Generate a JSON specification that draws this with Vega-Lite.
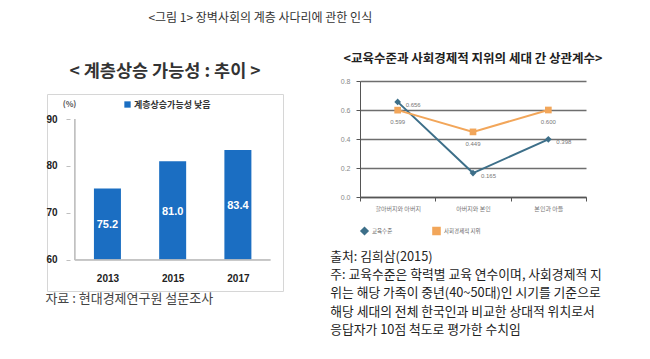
{
  "$schema": "https://vega.github.io/schema/vega-lite/v6.json",
  "padding": {"left": 45, "top": 11, "right": 5, "bottom": 5},
  "background": "white",
  "config": {"font": "Noto Sans CJK KR"},
  "title": {"text": "<그림 1> 장벽사회의 계층 사다리에 관한 인식", "anchor": "start", "dx": 103, "fontSize": 12, "fontWeight": "normal", "color": "#333", "offset": 28},
  "datasets": {
    "bars": [
      {"year": 2013, "value": 75.2, "series": "계층상승가능성 낮음"},
      {"year": 2015, "value": 81.0, "series": "계층상승가능성 낮음"},
      {"year": 2017, "value": 83.4, "series": "계층상승가능성 낮음"}
    ],
    "corr": [
      {"pair": "할아버지와 아버지", "series": "교육수준", "value": 0.656},
      {"pair": "아버지와 본인", "series": "교육수준", "value": 0.165},
      {"pair": "본인과 아들", "series": "교육수준", "value": 0.398},
      {"pair": "할아버지와 아버지", "series": "사회경제적 지위", "value": 0.599},
      {"pair": "아버지와 본인", "series": "사회경제적 지위", "value": 0.449},
      {"pair": "본인과 아들", "series": "사회경제적 지위", "value": 0.600}
    ]
  },
  "resolve": {"scale": {"color": "independent", "shape": "independent"}, "legend": {"color": "independent", "shape": "independent"}},
  "spacing": 46,
  "hconcat": [
    {
      "title": {"text": "자료 : 현대경제연구원 설문조사", "orient": "bottom", "anchor": "start", "fontSize": 13, "fontWeight": "normal", "color": "#444", "offset": 1},
      "resolve": {"scale": {"color": "independent"}, "legend": {"color": "independent"}},
      "vconcat": [
        {
          "width": 236,
          "height": 197,
          "title": {"text": "< 계층상승 가능성 : 추이  >", "fontSize": 17.5, "fontWeight": "bold", "color": "#333", "offset": 14, "anchor": "middle"},
          "view": {"stroke": "#d6d6d6", "strokeWidth": 1},
          "data": {"name": "bars"},
          "layer": [
            {
              "mark": {"type": "bar", "size": 27, "color": "#1b6ec2"},
              "encoding": {
                "x": {"field": "year", "type": "quantitative",
                  "scale": {"domain": [2011.3, 2018.23], "nice": false, "zero": false},
                  "axis": {"orient": "bottom", "offset": -31, "values": [2013, 2015, 2017], "format": "d", "domain": false, "ticks": false, "grid": false, "labelPadding": 13, "labelFontSize": 10, "labelFontWeight": "bold", "labelColor": "#222", "labelFont": "Liberation Sans", "title": null}},
                "y": {"field": "value", "type": "quantitative",
                  "scale": {"domain": [53.4, 95.32], "nice": false, "zero": false},
                  "axis": {"orient": "left", "offset": -23, "values": [60, 70, 80, 90], "domain": false, "grid": false, "ticks": true, "tickSize": 4, "tickColor": "#bfbfbf", "labelPadding": 9, "labelFontSize": 10, "labelFontWeight": "bold", "labelColor": "#222", "labelFont": "Liberation Sans",
                    "title": "(%)", "titleAngle": 0, "titleX": -1, "titleY": 10, "titleAlign": "center", "titleBaseline": "middle", "titleFontSize": 8, "titleFontWeight": "bold", "titleColor": "#555"}},
                "y2": {"datum": 60},
                "color": {"field": "series", "type": "nominal", "scale": {"range": ["#1b6ec2"]},
                  "legend": {"orient": "none", "legendX": 76, "legendY": 6, "title": null, "symbolType": "square", "symbolSize": 40, "labelFontSize": 9, "labelFontWeight": "bold", "labelColor": "#333", "labelOffset": 2}}
              }
            },
            {
              "mark": {"type": "rule", "color": "#bfbfbf", "strokeWidth": 1},
              "encoding": {"x": {"datum": 2012, "type": "quantitative"}, "x2": {"datum": 2018}, "y": {"datum": 60, "type": "quantitative"}}
            },
            {
              "mark": {"type": "rule", "color": "#bfbfbf", "strokeWidth": 1},
              "encoding": {"x": {"datum": 2012, "type": "quantitative"}, "y": {"datum": 60, "type": "quantitative"}, "y2": {"datum": 90}}
            },
            {
              "transform": [{"calculate": "(datum.value + 60) / 2", "as": "mid"}],
              "mark": {"type": "text", "color": "white", "fontWeight": "bold", "fontSize": 11, "font": "Liberation Sans", "dy": 1},
              "encoding": {
                "x": {"field": "year", "type": "quantitative"},
                "y": {"field": "mid", "type": "quantitative"},
                "text": {"field": "value", "type": "quantitative", "format": ".1f"}
              }
            }
          ]
        }
      ]
    },
    {
      "title": {"text": ["출처: 김희삼(2015)", "주: 교육수준은 학력별 교육 연수이며, 사회경제적 지", "위는 해당 가족이 중년(40~50대)인 시기를 기준으로", "해당 세대의 전체 한국인과 비교한 상대적 위치로서", "응답자가 10점 척도로 평가한 수치임"], "orient": "bottom", "anchor": "start", "fontSize": 12.8, "fontWeight": "normal", "color": "#222", "lineHeight": 18.2, "offset": 13, "dx": -10},
      "resolve": {"scale": {"color": "independent", "shape": "independent"}, "legend": {"color": "independent", "shape": "independent"}},
      "vconcat": [
        {
          "width": 226,
          "height": 103,
          "title": {"text": "<교육수준과 사회경제적 지위의 세대 간 상관계수>", "fontSize": 12.5, "fontWeight": "bold", "color": "#222", "offset": 12, "anchor": "middle"},
          "view": {"stroke": null},
          "data": {"name": "corr"},
          "encoding": {
            "x": {"field": "pair", "type": "nominal", "sort": ["할아버지와 아버지", "아버지와 본인", "본인과 아들"],
              "scale": {"type": "band", "paddingInner": 0, "paddingOuter": 0},
              "axis": {"title": null, "labelAngle": 0, "labelFontSize": 6, "labelColor": "#777", "tickBand": "extent", "tickSize": 4, "tickColor": "#555", "domainColor": "#555", "domainWidth": 1.5, "labelPadding": 4}},
            "y": {"field": "value", "type": "quantitative", "scale": {"domain": [0, 0.8], "nice": false, "range": [103, -13]},
              "axis": {"title": null, "values": [0, 0.2, 0.4, 0.6, 0.8], "format": ".1f", "labelFontSize": 7, "labelFont": "Liberation Sans", "labelColor": "#888", "grid": true, "gridColor": "#6e6e6e", "gridWidth": 1.5, "domainColor": "#555", "tickColor": "#555", "tickSize": 4, "labelPadding": 6}}
          },
          "layer": [
            {"mark": {"type": "line", "strokeWidth": 2},
              "encoding": {
                "color": {"field": "series", "type": "nominal", "scale": {"domain": ["교육수준", "사회경제적 지위"], "range": ["#3d6f89", "#f2a65a"]},
                  "legend": {"orient": "bottom", "title": null, "direction": "horizontal", "labelFontSize": 5.5, "labelColor": "#666", "columnPadding": 36, "labelOffset": 3, "offset": 15, "symbolSize": 50,
                    "symbolType": {"expr": "datum.value === '교육수준' ? 'M-1,0H1M0,-0.38L0.38,0L0,0.38L-0.38,0Z' : 'M-1,0H1M-0.32,-0.32H0.32V0.32H-0.32Z'"},
                    "symbolStrokeColor": {"expr": "datum.value === '교육수준' ? '#3d6f89' : '#f2a65a'"},
                    "symbolFillColor": {"expr": "datum.value === '교육수준' ? '#3d6f89' : '#f2a65a'"},
                    "symbolStrokeWidth": 1.5}
                }
              }
            },
            {"mark": {"type": "point", "filled": true, "opacity": 1, "size": 45},
              "encoding": {
                "color": {"field": "series", "type": "nominal", "legend": null},
                "shape": {"field": "series", "type": "nominal", "scale": {"domain": ["교육수준", "사회경제적 지위"], "range": ["diamond", "square"]}, "legend": null}}},
            {"transform": [{"filter": "datum.series === '교육수준'"}],
              "mark": {"type": "text", "align": "left", "dx": 8, "dy": 3, "fontSize": 6, "font": "Liberation Sans"},
              "encoding": {"text": {"field": "value", "type": "quantitative", "format": ".3f"}, "color": {"value": "#777"}}},
            {"transform": [{"filter": "datum.series === '사회경제적 지위'"}],
              "mark": {"type": "text", "align": "center", "dy": 12, "fontSize": 6, "font": "Liberation Sans"},
              "encoding": {"text": {"field": "value", "type": "quantitative", "format": ".3f"}, "color": {"value": "#777"}}}
          ]
        }
      ]
    }
  ]
}
